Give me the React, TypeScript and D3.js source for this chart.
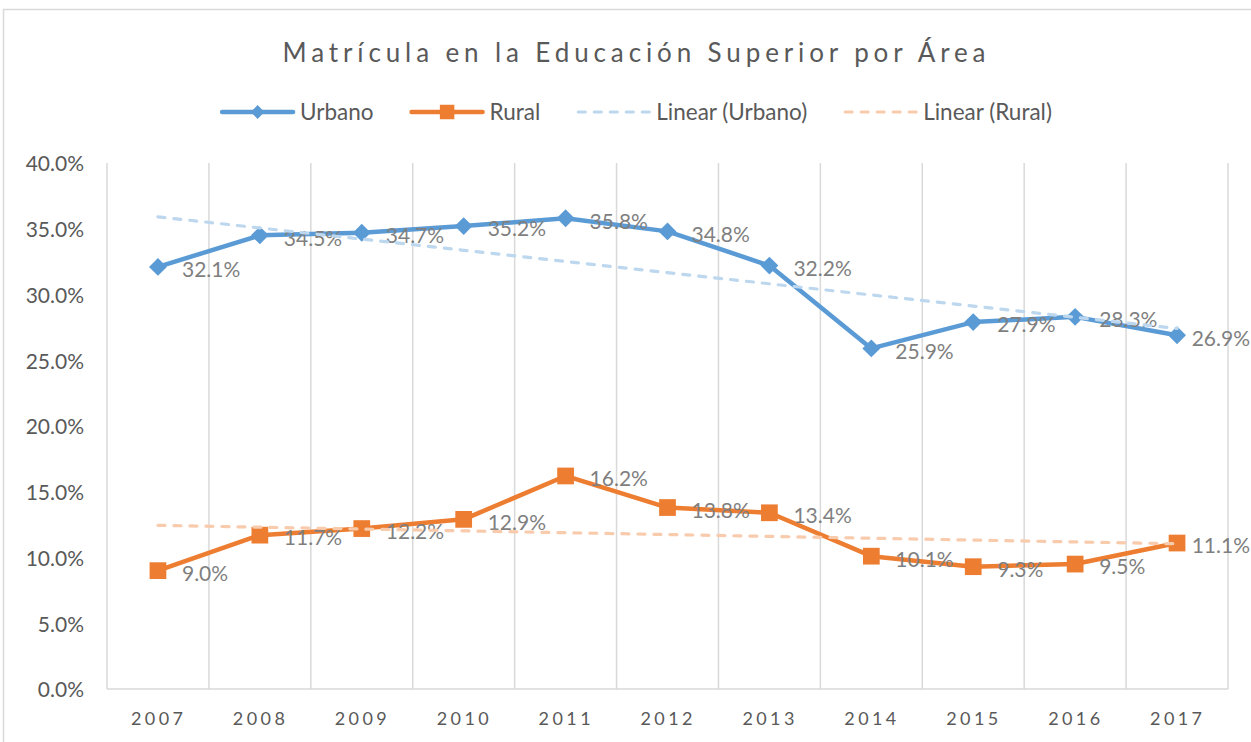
import { useEffect, useRef } from 'react';
import * as d3 from 'd3';

// Data
const years = ['2007', '2008', '2009', '2010', '2011', '2012', '2013', '2014', '2015', '2016', '2017'];
const urbano = [32.1, 34.5, 34.7, 35.2, 35.8, 34.8, 32.2, 25.9, 27.9, 28.3, 26.9];
const rural = [9.0, 11.7, 12.2, 12.9, 16.2, 13.8, 13.4, 10.1, 9.3, 9.5, 11.1];
const yTicks = [0, 5, 10, 15, 20, 25, 30, 35, 40];
const title = 'Matrícula en la Educación Superior por Área';
const legendLabels = ['Urbano', 'Rural', 'Linear (Urbano)', 'Linear (Rural)'];

const WIDTH = 1251;
const HEIGHT = 742;
const FONT = 'Lato, "Open Sans", sans-serif';
const BLUE = '#5B9BD5';
const ORANGE = '#ED7D31';
const BLUE_TREND = '#BDD7EE';
const ORANGE_TREND = '#F8CBAD';

// least squares fit, returns fitted values at each index
const linearFit = (values: number[]) => {
  const n = values.length;
  const mx = (n - 1) / 2;
  const my = d3.mean(values) as number;
  let num = 0;
  let den = 0;
  values.forEach((v, i) => {
    num += (i - mx) * (v - my);
    den += (i - mx) * (i - mx);
  });
  const slope = num / den;
  return values.map((_, i) => my + slope * (i - mx));
};

const App = () => {
  const svgRef = useRef<SVGSVGElement>(null);

  useEffect(() => {
    const svg = d3.select(svgRef.current);
    svg.selectAll('*').remove();

    const plot = { left: 107, right: 1228, top: 163, bottom: 689 };

    // chart area border
    svg.append('rect')
      .attr('x', 3.5)
      .attr('y', 9.5)
      .attr('width', 1300)
      .attr('height', 800)
      .attr('fill', '#fff')
      .attr('stroke', '#d9d9d9')
      .attr('stroke-width', 1.5);

    const xBand = d3.scaleBand<string>()
      .domain(years)
      .range([plot.left, plot.right])
      .paddingInner(0)
      .paddingOuter(0);
    const xPos = (yr: string) => (xBand(yr) as number) + xBand.bandwidth() / 2;

    const yScale = d3.scaleLinear()
      .domain([0, 40])
      .range([plot.bottom, plot.top]);

    // vertical gridlines at category boundaries
    const bounds = years.map(yr => xBand(yr) as number).concat([plot.right]);
    svg.append('g')
      .selectAll('line')
      .data(bounds)
      .enter()
      .append('line')
      .attr('x1', d => d)
      .attr('x2', d => d)
      .attr('y1', plot.top)
      .attr('y2', plot.bottom)
      .attr('stroke', '#d9d9d9')
      .attr('stroke-width', 1.5);

    // x axis line
    svg.append('line')
      .attr('x1', plot.left)
      .attr('x2', plot.right)
      .attr('y1', plot.bottom)
      .attr('y2', plot.bottom)
      .attr('stroke', '#d9d9d9')
      .attr('stroke-width', 1.5);

    // y tick labels
    svg.append('g')
      .selectAll('text')
      .data(yTicks)
      .enter()
      .append('text')
      .attr('x', 84)
      .attr('y', d => yScale(d) + 1)
      .attr('dy', '0.35em')
      .attr('text-anchor', 'end')
      .style('font-family', FONT)
      .style('font-size', '21px')
      .style('fill', '#595959')
      .text(d => `${d.toFixed(1)}%`);

    // x tick labels (letter spaced)
    svg.append('g')
      .selectAll('text')
      .data(years)
      .enter()
      .append('text')
      .attr('x', d => xPos(d) - 1)
      .attr('y', 725)
      .attr('text-anchor', 'middle')
      .attr('textLength', 52)
      .attr('lengthAdjust', 'spacing')
      .style('font-family', FONT)
      .style('font-size', '18px')
      .style('fill', '#595959')
      .text(d => d);

    // title
    svg.append('text')
      .attr('x', 634)
      .attr('y', 62)
      .attr('text-anchor', 'middle')
      .attr('textLength', 703)
      .attr('lengthAdjust', 'spacing')
      .style('font-family', FONT)
      .style('font-size', '26px')
      .style('fill', '#595959')
      .text(title);

    const line = d3.line<number>()
      .x((_, i) => xPos(years[i]))
      .y(d => yScale(d));

    const diamond = d3.symbol().type(d3.symbolSquare).size(160);
    const square = d3.symbol().type(d3.symbolSquare).size(280);

    const series = [
      { values: urbano, color: BLUE, trendColor: BLUE_TREND, marker: diamond, rotate: 45 },
      { values: rural, color: ORANGE, trendColor: ORANGE_TREND, marker: square, rotate: 0 },
    ];

    series.forEach(s => {
      svg.append('path')
        .datum(s.values)
        .attr('fill', 'none')
        .attr('stroke', s.color)
        .attr('stroke-width', 4.5)
        .attr('stroke-linejoin', 'round')
        .attr('d', line);

      svg.append('g')
        .selectAll('path')
        .data(s.values)
        .enter()
        .append('path')
        .attr('d', s.marker() as string)
        .attr('transform', (d, i) => `translate(${xPos(years[i])},${yScale(d)}) rotate(${s.rotate})`)
        .attr('fill', s.color);
    });

    // data labels, placed right of the points and kept inside the chart area
    series.forEach(s => {
      svg.append('g')
        .selectAll('text')
        .data(s.values)
        .enter()
        .append('text')
        .attr('x', (_, i) => xPos(years[i]) + 24)
        .attr('y', d => yScale(d) + 3)
        .attr('dy', '0.35em')
        .style('font-family', FONT)
        .style('font-size', '21px')
        .style('fill', '#7f7f7f')
        .text(d => `${d.toFixed(1)}%`)
        .each(function () {
          const el = this as SVGTextElement;
          const w = el.getComputedTextLength();
          const x = +el.getAttribute('x')!;
          if (x + w > WIDTH - 1) el.setAttribute('x', String(WIDTH - 1 - w));
        });
    });

    // trendlines
    series.forEach(s => {
      svg.append('path')
        .datum(linearFit(s.values))
        .attr('fill', 'none')
        .attr('stroke', s.trendColor)
        .attr('stroke-width', 3.2)
        .attr('stroke-dasharray', '7 9')
        .attr('stroke-linecap', 'round')
        .attr('d', line);
    });

    // legend
    const legendY = 112;
    const lineLen = 71;
    const textGap = 7;
    const itemGap = 38;
    const legend = svg.append('g');
    const items = legendLabels.map((label, i) => {
      const g = legend.append('g');
      const isTrend = i >= 2;
      const color = [BLUE, ORANGE, BLUE_TREND, ORANGE_TREND][i];
      g.append('line')
        .attr('x1', 0)
        .attr('x2', lineLen)
        .attr('y1', legendY)
        .attr('y2', legendY)
        .attr('stroke', color)
        .attr('stroke-width', isTrend ? 3.2 : 4.5)
        .attr('stroke-linecap', 'round')
        .attr('stroke-dasharray', isTrend ? '7 9' : null);
      if (!isTrend) {
        g.append('path')
          .attr('d', d3.symbol().type(d3.symbolSquare).size(i === 0 ? 95 : 210)() as string)
          .attr('transform', `translate(${lineLen / 2},${legendY}) rotate(${i === 0 ? 45 : 0})`)
          .attr('fill', color);
      }
      const t = g.append('text')
        .attr('x', lineLen + textGap)
        .attr('y', legendY)
        .attr('dy', '0.35em')
        .style('font-family', FONT)
        .style('font-size', '22.5px')
        .style('fill', '#595959')
        .text(label);
      const w = lineLen + textGap + (t.node() as SVGTextElement).getComputedTextLength();
      return { g, w };
    });
    const total = d3.sum(items, d => d.w) + itemGap * (items.length - 1);
    let cx = 637 - total / 2;
    items.forEach(it => {
      it.g.attr('transform', `translate(${cx},0)`);
      cx += it.w + itemGap;
    });
  }, []);

  return (
    <svg
      ref={svgRef}
      width={WIDTH}
      height={HEIGHT}
      style={{ position: 'absolute', left: 0, top: 0, display: 'block', background: '#fff' }}
    />
  );
};

export default App;
